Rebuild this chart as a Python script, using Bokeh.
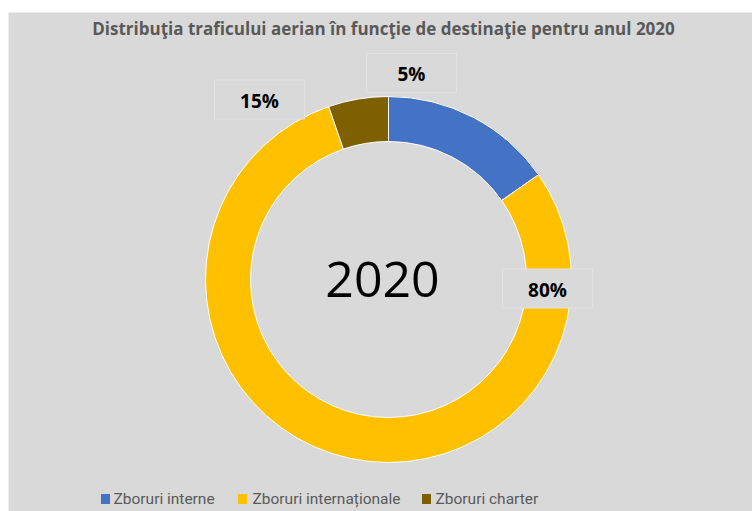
import math
from bokeh.plotting import figure
from bokeh.models import Range1d, ColumnDataSource
from bokeh.core.properties import value
from bokeh.embed import file_html
from bokeh.resources import INLINE

# ---- data ----
categories = ["Zboruri interne", "Zboruri internaționale", "Zboruri charter"]
shares = [15.3, 79.4, 5.3]
label_texts = ["15%", "80%", "5%"]
colors = ["#4472C4", "#FFC000", "#7F6000"]
title_text = "Distribuţia traficului aerian în funcţie de destinaţie pentru anul 2020"
center_text = "2020"

# ---- layout (page pixel coordinates mapped to data space) ----
W, H = 752, 511
X0, X1 = 8, 752          # frame spans these page x pixels
Y0, Y1 = 0, 499          # data y = 511 - page y
cx, cy = 388, 511 - 279
r_out, r_in = 183, 138
# label box centres (page px) for each category, in category order
label_pos = [(259, 99), (547, 288), (411, 72.5)]
legend_pos = [(105, 113), (242, 252), (426, 435)]
legend_y = 511 - 498.5

p = figure(width=W, height=H, output_backend="svg", toolbar_location=None,
           x_range=Range1d(X0, X1), y_range=Range1d(Y0, Y1),
           min_border_left=8, min_border_right=0, min_border_bottom=0, min_border_top=12)
p.background_fill_color = "#D9D9D9"
p.border_fill_color = "white"
p.outline_line_color = None
p.axis.visible = False
p.grid.visible = False

total = sum(shares)
starts, ends = [], []
cum = 0.0
for s in shares:
    a0 = math.pi / 2 - 2 * math.pi * (cum + s) / total
    a1 = math.pi / 2 - 2 * math.pi * cum / total
    starts.append(a0)
    ends.append(a1)
    cum += s

src = ColumnDataSource(dict(x=[cx] * len(shares), y=[cy] * len(shares),
                            start=starts, end=ends, color=colors, cat=categories))
p.annular_wedge(x="x", y="y", inner_radius=r_in, outer_radius=r_out,
                start_angle="start", end_angle="end", direction="anticlock",
                fill_color="color", line_color="white", line_width=1, source=src)

# data label boxes
lx = [pp[0] for pp in label_pos]
ly = [511 - pp[1] for pp in label_pos]
p.rect(x=lx, y=ly, width=90, height=39, fill_color="#D9D9D9",
       line_color="#E2E2E2", line_width=1)
p.text(x=lx, y=[v - 1 for v in ly], text=label_texts, text_align="center",
       text_baseline="middle", text_font=value("Open Sans"), text_font_style="bold",
       text_font_size="19px", text_color="black")

# centre text
p.text(x=[382], y=[511 - 279], text=[center_text], text_align="center",
       text_baseline="middle", text_font=value("Open Sans"), text_font_size="50px",
       text_color="black")

# title
p.text(x=[383], y=[511 - 28], text=[title_text], text_align="center",
       text_baseline="middle", text_font=value("Open Sans"),
       text_font_style="bold", text_font_size="17px", text_color="#595959")

# legend
p.rect(x=[lp[0] for lp in legend_pos], y=[legend_y] * 3, width=9, height=10,
       fill_color=colors, line_color=None)
p.text(x=[lp[1] for lp in legend_pos], y=[legend_y] * 3, text=categories,
       text_align="left", text_baseline="middle", text_font=value("Roboto"),
       text_font_size="15.5px", text_color="#595959")

open("out.html", "w").write(file_html(p, INLINE))
